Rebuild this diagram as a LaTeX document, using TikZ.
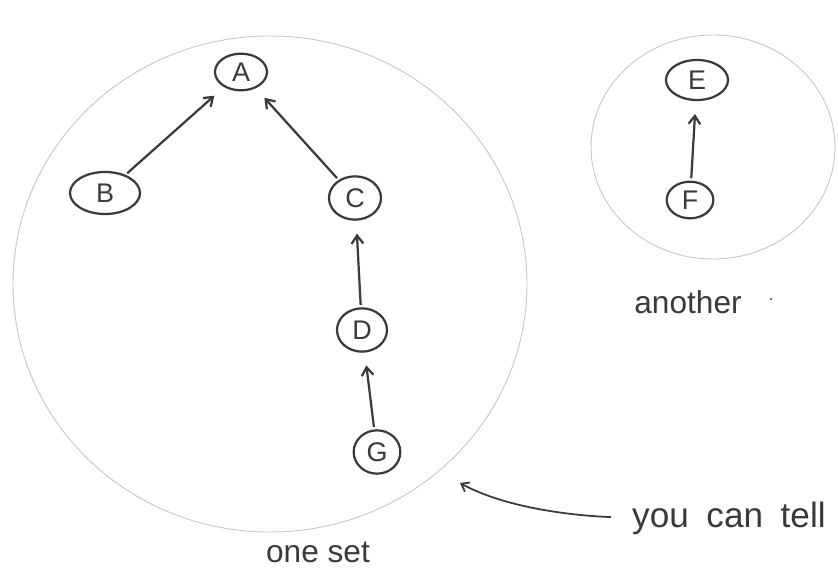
\documentclass[tikz,border=0pt]{standalone}
\usepackage{fontspec}
\setmainfont{Liberation Sans}
\usetikzlibrary{shapes.geometric,arrows.meta}
\definecolor{ink}{HTML}{3A3A3A}
\definecolor{pencil}{HTML}{C8C8C8}
\begin{document}
\begin{tikzpicture}[x=0.03cm,y=-0.03cm,
  vert/.style={ellipse,draw=ink,line width=1.9pt,inner sep=0pt,
    font=\fontsize{23}{25}\selectfont,text=ink},
  link/.style={draw=ink,line width=1.9pt,-{Straight Barb[length=7pt,width=10pt]},
    shorten >=11pt,shorten <=2pt},
  setline/.style={draw=pencil,line width=0.8pt},
  note/.style={font=\fontsize{27}{29}\selectfont,text=ink}]
\useasboundingbox (0,0) rectangle (838,568);
\clip (0,0) rectangle (838,568);

% set outlines
\draw[setline] (270,284) ellipse [x radius=257, y radius=248];
\draw[setline] (713,147) ellipse [x radius=122, y radius=112];

% first set
\node[vert,minimum width=1.56cm,minimum height=1.1cm] (A) at (241,72) {A};
\node[vert,minimum width=2.1cm,minimum height=1.26cm] (B) at (105,193) {B};
\node[vert,minimum width=1.56cm,minimum height=1.3cm] (C) at (355,198) {C};
\node[vert,minimum width=1.5cm,minimum height=1.3cm] (D) at (362,330) {D};
\node[vert,minimum width=1.4cm,minimum height=1.3cm] (G) at (377,452) {G};

% second set
\node[vert,minimum width=1.86cm,minimum height=1.2cm] (E) at (697,80) {E};
\node[vert,minimum width=1.4cm,minimum height=1.1cm] (F) at (690,200) {F};

% parent links
\draw[link] (B) -- (A);
\draw[link] (C) -- (A);
\draw[link] (D) -- (C);
\draw[link] (G) -- (D);
\draw[link] (F) -- (E);

% captions
\node[note] (one) at (318,552) {one set};
\node[note] (another) at (688,302) {another};
\fill[ink] (771,299) circle (1.2);
\node[note,anchor=west,inner sep=0pt,font=\fontsize{30}{32}\selectfont]
  (tell) at (632,518) {you\hspace{0.5em}can\hspace{0.5em}tell};
\coordinate (tip) at (460,483);
\draw[ink,line width=1.5pt,shorten <=18pt,-{Straight Barb[length=6pt,width=9pt]}]
  (tell.west) .. controls (560,515) and (500,505) .. (tip);
\end{tikzpicture}
\end{document}
